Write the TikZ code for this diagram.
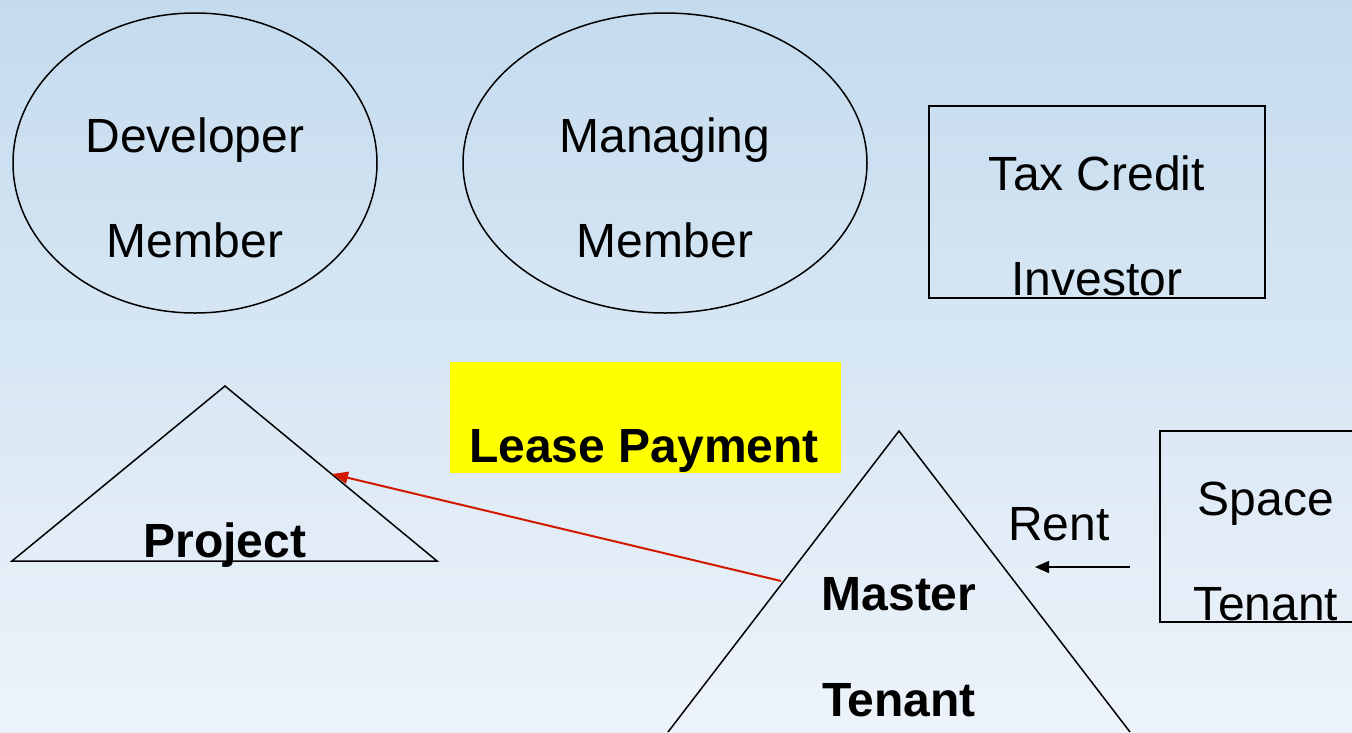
\documentclass[tikz,border=0pt]{standalone}
\usepackage{fontspec}
\setmainfont{Liberation Sans}
\usetikzlibrary{shapes.geometric,arrows.meta}
\definecolor{bgtop}{RGB}{196,219,238}
\definecolor{bgbot}{RGB}{237,243,250}
\definecolor{leaseyellow}{RGB}{255,255,0}
\definecolor{arrowred}{RGB}{210,25,0}
\begin{document}
\begin{tikzpicture}[x=1pt,y=-1pt,
  outline/.style={draw=black,line width=1.5pt},
  lbl/.style={anchor=base,inner sep=0pt,font=\fontsize{48}{58}\selectfont},
  blbl/.style={lbl,font=\fontsize{48}{58}\selectfont\bfseries},
  ell/.style={outline,ellipse,inner sep=0pt,outer sep=0pt},
  boxnode/.style={outline,rectangle,inner sep=0pt,outer sep=0pt,anchor=north west}]
\fill[top color=bgtop,bottom color=bgbot] (0,0) rectangle (1352,732);
\useasboundingbox (0,0) rectangle (1352,732);
% ellipses
\node[ell,minimum width=364pt,minimum height=300pt] (dev) at (195,163) {};
\node[lbl] (devA) at (195,152) {Developer};
\node[lbl] (devB) at (195,257) {Member};
\node[ell,minimum width=404pt,minimum height=300pt] (mgr) at (665,163) {};
\node[lbl] (mgrA) at (665,152) {Managing};
\node[lbl] (mgrB) at (665,257) {Member};
% tax credit investor box
\node[boxnode,minimum width=336pt,minimum height=192pt] (tax) at (929,106) {};
\node[lbl] (taxA) at (1097,190) {Tax Credit};
\node[lbl] (taxB) at (1097,295) {Investor};
% lease payment label
\node[fill=leaseyellow,anchor=north west,minimum width=391pt,minimum height=111pt,inner sep=0pt] (lease) at (450,362) {};
\node[blbl] (leaseT) at (644,462) {Lease Payment};
% project triangle
\coordinate (pA) at (225,386);
\coordinate (pL) at (12,561);
\coordinate (pR) at (437,561);
\draw[outline,line join=miter] (pA) -- (pL) -- (pR) -- cycle;
\node[blbl] (proj) at (225,557) {Project};
\coordinate (pHit) at (332,474);
% master tenant triangle
\coordinate (mA) at (899,431);
\coordinate (mL) at (668,732);
\coordinate (mR) at (1130,732);
\draw[outline] (mL) -- (mA) -- (mR);
\node[blbl] (mt1) at (899,610) {Master};
\node[blbl] (mt2) at (899,716) {Tenant};
\coordinate (mHit) at (781,581);
% space tenant box
\node[boxnode,minimum width=200pt,minimum height=191pt] (space) at (1160,431) {};
\node[lbl] (spA) at (1266,515) {Space};
\node[lbl] (spB) at (1266,620) {Tenant};
% rent
\node[lbl] (rent) at (1059,540) {Rent};
\coordinate (rS) at (1130,567);
\coordinate (rE) at (1035,567);
\draw[line width=1.5pt,-{Triangle[length=14pt,width=12pt]}] (rS) -- (rE);
% lease payment arrow
\draw[arrowred,line width=2pt,-{Triangle[length=16pt,width=12pt]}] (mHit) -- (pHit);
\end{tikzpicture}
\end{document}
